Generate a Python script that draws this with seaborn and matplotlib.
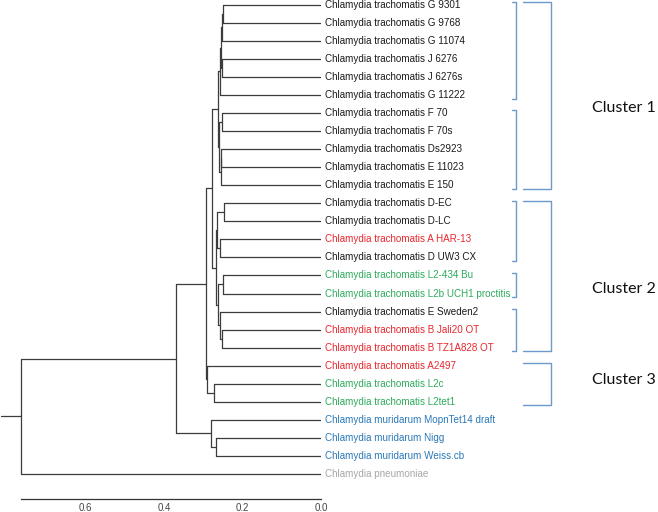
import numpy as np
import pandas as pd
import seaborn as sns
import matplotlib
matplotlib.use("Agg")
import matplotlib.pyplot as plt
from matplotlib.transforms import blended_transform_factory

# leaves, top to bottom
leaf_names = [
    "Chlamydia trachomatis G 9301", "Chlamydia trachomatis G 9768",
    "Chlamydia trachomatis G 11074", "Chlamydia trachomatis J 6276",
    "Chlamydia trachomatis J 6276s", "Chlamydia trachomatis G 11222",
    "Chlamydia trachomatis F 70", "Chlamydia trachomatis F 70s",
    "Chlamydia trachomatis Ds2923", "Chlamydia trachomatis E 11023",
    "Chlamydia trachomatis E 150", "Chlamydia trachomatis D-EC",
    "Chlamydia trachomatis D-LC", "Chlamydia trachomatis A HAR-13",
    "Chlamydia trachomatis D UW3 CX", "Chlamydia trachomatis L2-434 Bu",
    "Chlamydia trachomatis L2b UCH1 proctitis", "Chlamydia trachomatis E Sweden2",
    "Chlamydia trachomatis B Jali20 OT", "Chlamydia trachomatis B TZ1A828 OT",
    "Chlamydia trachomatis A2497", "Chlamydia trachomatis L2c",
    "Chlamydia trachomatis L2tet1", "Chlamydia muridarum MopnTet14 draft",
    "Chlamydia muridarum Nigg", "Chlamydia muridarum Weiss.cb",
    "Chlamydia pneumoniae",
]
leaf_groups = ["k"] * 13 + ["r", "k", "g", "g", "k", "r", "r", "r", "g", "g",
                            "b", "b", "b", "grey"]
group_colors = {"k": "#1a1a1a", "r": "#e8262d", "g": "#2eaa5c",
                "b": "#2a78b8", "grey": "#a6a6a6"}

# merges like a scipy linkage: (child a, child b, distance); new ids start at 27
merge_a = [0, 27, 3, 28, 30, 6, 8, 33, 32, 31, 11, 13, 37, 15, 18, 17, 40,
           39, 36, 21, 20, 45, 24, 23, 48, 51]
merge_b = [1, 2, 4, 29, 5, 7, 9, 10, 34, 35, 12, 14, 38, 16, 19, 41, 42,
           43, 44, 22, 46, 47, 25, 49, 50, 26]
merge_dist = [0.250, 0.252, 0.253, 0.2548, 0.257, 0.2515, 0.254, 0.2555,
              0.259, 0.2616, 0.246, 0.258, 0.266, 0.249, 0.253, 0.258, 0.262,
              0.268, 0.278, 0.273, 0.2897, 0.294, 0.2675, 0.281, 0.370, 0.765]

ticks = [0.6, 0.4, 0.2, 0.0]

# bracket groups (first leaf, last leaf)
inner_groups = [(0, 5), (6, 10), (11, 14), (15, 16), (17, 19)]
outer_groups = [(0, 10), (11, 19), (20, 22)]
cluster_names = ["Cluster 1", "Cluster 2", "Cluster 3"]
cluster_rows = [5.7, 15.75, 20.8]

sns.set_style("white")

n = len(leaf_names)
node_x = {i: 0.0 for i in range(n)}
node_y = {i: float(i) for i in range(n)}
segs = []
for k, (a, b, d) in enumerate(zip(merge_a, merge_b, merge_dist)):
    nid = n + k
    node_x[nid] = d
    node_y[nid] = (node_y[a] + node_y[b]) / 2
    segs.append(pd.DataFrame({"x": [node_x[a], d], "y": [node_y[a]] * 2}))
    segs.append(pd.DataFrame({"x": [node_x[b], d], "y": [node_y[b]] * 2}))
    segs.append(pd.DataFrame({"x": [d, d], "y": [node_y[a], node_y[b]]}))
root = n + len(merge_dist) - 1

fig = plt.figure(figsize=(6.58, 5.12), dpi=100)
ax = fig.add_axes([1.1 / 658, 12.7 / 512, 319.9 / 658, 499.3 / 512])

for s in segs:
    sns.lineplot(data=s, x="x", y="y", ax=ax, color="#3c3c3c", lw=0.9,
                 sort=False, estimator=None)
ax.plot([node_x[root], 0.815], [node_y[root]] * 2, color="#3c3c3c", lw=0.9,
        clip_on=False)

for i, (name, g) in enumerate(zip(leaf_names, leaf_groups)):
    ax.annotate(name, (0, i), xytext=(3, 0), textcoords="offset points",
                va="center", ha="left", fontsize=7.1, color=group_colors[g],
                family="Liberation Sans", annotation_clip=False)

ax.set_xlim(0.815, 0)
ax.set_ylim(27.4, -0.26)
ax.set_xlabel("")
ax.set_ylabel("")
ax.set_yticks([])
ax.set_xticks(ticks)
ax.set_xticklabels([f"{t:.1f}" for t in ticks], fontsize=7, color="#444444",
                   family="Liberation Sans")
ax.tick_params(axis="x", direction="inout", length=4, width=0.8, pad=1,
               color="#333333")
sns.despine(ax=ax, left=True)
ax.spines["bottom"].set_bounds(0, node_x[root])
ax.spines["bottom"].set_linewidth(0.9)
ax.spines["bottom"].set_color("#333333")
ax.patch.set_alpha(0)

# brackets
tr = blended_transform_factory(fig.transFigure, ax.transData)
bcol = "#6e9acb"
for lo, hi in inner_groups:
    y0, y1 = lo - 0.15, hi + 0.2
    ax.plot([512 / 658, 516 / 658, 516 / 658, 512 / 658], [y0, y0, y1, y1],
            color=bcol, lw=1, transform=tr, clip_on=False)
for lo, hi in outer_groups:
    y0, y1 = lo - 0.15, hi + 0.2
    ax.plot([522.7 / 658, 551 / 658, 551 / 658, 522.7 / 658], [y0, y0, y1, y1],
            color=bcol, lw=1, transform=tr, clip_on=False)
for name, row in zip(cluster_names, cluster_rows):
    ax.text(592 / 658, row, name, transform=tr, fontsize=11.5, family="Lato",
            va="center", ha="left", color="#111111")

fig.savefig("out.png", dpi=100)
